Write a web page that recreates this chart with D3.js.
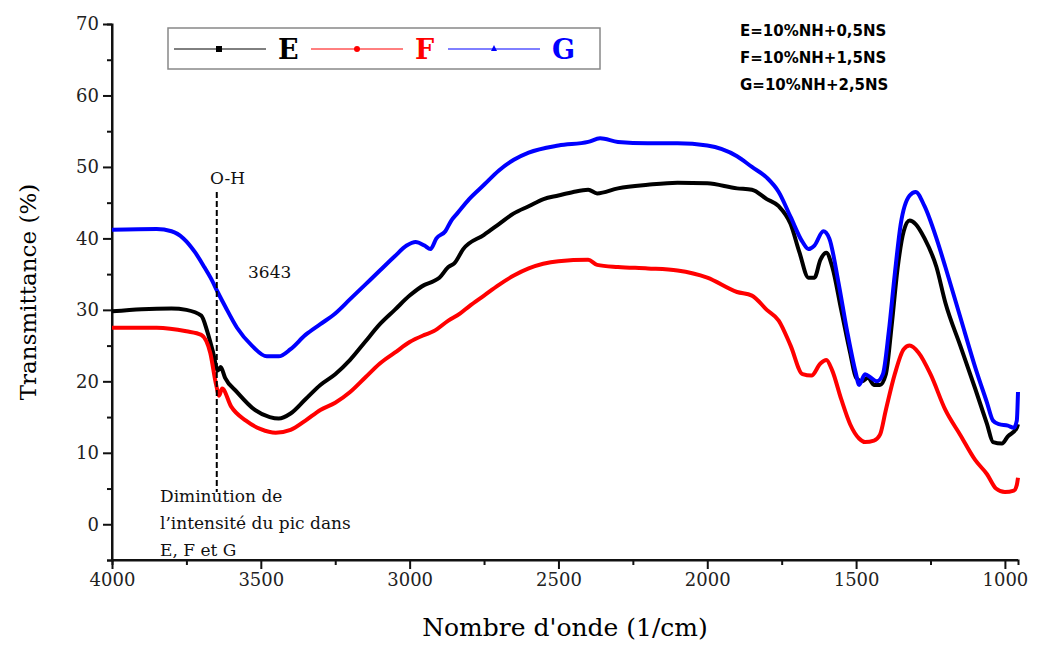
<!DOCTYPE html>
<meta charset="utf-8">
<style>
body{margin:0;background:#fff;}
.tick text{font-family:"DejaVu Serif",serif;font-size:18px;fill:#222;}
.axis path,.axis line{stroke:#111;stroke-width:2;}
.lg{font-family:"DejaVu Sans",sans-serif;font-weight:bold;font-size:15px;}
.ann{font-family:"DejaVu Serif",serif;font-size:17px;fill:#111;}
</style>
<body>
<svg width="1038" height="646"></svg>
<script src="https://cdn.jsdelivr.net/npm/d3@7"></script>
<script>
var seriesNames=["E","F","G"];
var seriesColors=["#000","#ff0000","#0000ff"];
var E=[[4000,29.8],[3900,30.1],[3800,30.2],[3750,30],[3700,29.2],[3680,27],[3660,24],[3645,21.5],[3635,22],[3620,20.5],[3580,18.5],[3520,16],[3470,15],[3440,14.8],[3400,15.5],[3350,17.5],[3300,19.5],[3250,21],[3200,23],[3150,25.5],[3100,28],[3050,30],[3000,32],[2950,33.5],[2920,34],[2900,34.5],[2870,36],[2850,36.5],[2820,38.5],[2750,40.5],[2700,42],[2650,43.5],[2600,44.5],[2550,45.5],[2500,46],[2450,46.5],[2400,46.8],[2370,46.3],[2300,47],[2200,47.5],[2100,47.8],[2000,47.7],[1900,47],[1850,46.8],[1800,45.5],[1760,44.5],[1720,42],[1690,38],[1660,34.5],[1640,34.5],[1620,37],[1600,38],[1580,36],[1550,30],[1520,24],[1500,20.5],[1480,20],[1460,20.5],[1440,19.5],[1420,19.5],[1400,21],[1380,28],[1360,36],[1340,41],[1320,42.5],[1300,42],[1270,40],[1230,36],[1200,31],[1150,25],[1100,19],[1060,14],[1040,11.5],[1010,11.3],[990,12.3],[960,13.5],[956,14]];
var F=[[4000,27.5],[3850,27.5],[3750,27],[3700,26.5],[3670,24],[3650,19.5],[3640,18],[3630,19],[3600,16.5],[3550,14.5],[3500,13.3],[3450,12.8],[3400,13.2],[3350,14.5],[3300,16],[3250,17],[3200,18.5],[3150,20.5],[3100,22.5],[3050,24],[3000,25.5],[2950,26.5],[2920,27],[2870,28.5],[2830,29.5],[2800,30.5],[2750,32],[2700,33.5],[2650,34.8],[2600,35.8],[2500,36.8],[2400,37],[2370,36.3],[2300,36],[2200,35.8],[2100,35.5],[2000,34.5],[1900,32.5],[1850,32],[1800,30],[1760,28.5],[1720,25],[1680,21],[1650,20.8],[1620,22.5],[1600,23],[1580,21.5],[1550,17.5],[1520,14],[1490,12],[1470,11.5],[1440,11.7],[1420,12.5],[1400,16],[1370,21],[1340,24.5],[1320,25],[1290,24],[1250,21],[1200,16],[1150,12.5],[1100,9],[1060,7],[1030,5],[1000,4.5],[970,4.7],[960,5.5],[956,6.5]];
var G=[[4000,41.2],[3850,41.3],[3800,41],[3760,40],[3720,38],[3690,36],[3665,34.2],[3645,32.5],[3620,30.5],[3580,27.5],[3530,25],[3480,23.5],[3440,23.5],[3400,24.5],[3350,26.5],[3300,28],[3250,29.5],[3200,31.5],[3150,33.5],[3100,35.5],[3050,37.5],[3010,39],[2980,39.5],[2950,39],[2930,38.5],[2910,40],[2880,41],[2860,42.5],[2840,43.5],[2800,45.5],[2750,47.5],[2700,49.5],[2650,51],[2600,52],[2500,53],[2400,53.5],[2360,54],[2300,53.5],[2200,53.3],[2100,53.3],[2000,53],[1900,51.5],[1850,50],[1800,48.5],[1760,46.5],[1720,43],[1680,39.5],[1660,38.5],[1640,39],[1610,41],[1590,40],[1560,34],[1530,27],[1500,21],[1490,19.5],[1470,21],[1450,20.5],[1430,20],[1410,21],[1390,27],[1370,35],[1350,42],[1320,46],[1300,46.5],[1270,44.5],[1230,40],[1200,36],[1150,29],[1100,22],[1060,17],[1040,14.5],[1020,14],[990,13.8],[970,13.5],[960,14.5],[956,18.5]];
var xTicks=[4000,3500,3000,2500,2000,1500,1000];
var yTicks=[0,10,20,30,40,50,60,70];
var formulas=["E=10%NH+0,5NS","F=10%NH+1,5NS","G=10%NH+2,5NS"];

var svg=d3.select("svg");
var x=d3.scaleLinear().domain([4000,956]).range([112,1018]);
var y=d3.scaleLinear().domain([-5,70]).range([560,24]);

// minor ticks
svg.append("g").attr("class","axis").attr("transform","translate(0,560)")
  .call(d3.axisBottom(x).tickValues(d3.range(3750,955,-500)).tickSize(5).tickFormat(""));
svg.append("g").attr("class","axis").attr("transform","translate(112,0)")
  .call(d3.axisLeft(y).tickValues(d3.range(-5,70,10)).tickSize(5).tickFormat(""));
var xa=svg.append("g").attr("class","axis").attr("transform","translate(0,560)")
  .call(d3.axisBottom(x).tickValues(xTicks).tickSize(9).tickPadding(4).tickFormat(d3.format("d")));
var ya=svg.append("g").attr("class","axis").attr("transform","translate(112,0)")
  .call(d3.axisLeft(y).tickValues(yTicks).tickSize(9).tickPadding(4));
xa.select(".domain").attr("d","M112,0H1018");
ya.select(".domain").attr("d","M0,24V560");

var line=d3.line().x(function(d){return x(d[0]);}).y(function(d){return y(d[1]);}).curve(d3.curveMonotoneX);
[E,F,G].forEach(function(s,i){
  svg.append("path").attr("d",line(s)).attr("fill","none").attr("stroke",seriesColors[i])
    .attr("stroke-width",4).attr("stroke-linejoin","round");
});

// axis titles
svg.append("text").attr("x",565).attr("y",636).attr("text-anchor","middle")
  .style("font-family","DejaVu Serif,serif").style("font-size","25px").text("Nombre d'onde (1/cm)");
svg.append("text").attr("transform","translate(36,292) rotate(-90)").attr("text-anchor","middle")
  .style("font-family","DejaVu Serif,serif").style("font-size","23px").text("Transmittance (%)");

// legend
svg.append("rect").attr("x",168).attr("y",28).attr("width",432).attr("height",41)
  .attr("fill","#fff").attr("stroke","#888").attr("stroke-width",1.5);
seriesNames.forEach(function(n,i){
  var lx=174+i*137;
  svg.append("line").attr("x1",lx).attr("x2",lx+92).attr("y1",49).attr("y2",49).attr("stroke",seriesColors[i]).attr("stroke-width",1);
  if(i==0) svg.append("rect").attr("x",lx+42).attr("y",46).attr("width",6).attr("height",6).attr("fill","#000");
  if(i==1) svg.append("circle").attr("cx",lx+46).attr("cy",49).attr("r",3).attr("fill",seriesColors[1]);
  if(i==2) svg.append("path").attr("d","M"+(lx+43)+",51L"+(lx+46)+",45L"+(lx+49)+",51Z").attr("fill",seriesColors[2]);
  svg.append("text").attr("x",lx+104).attr("y",59).attr("fill",seriesColors[i])
    .style("font-family","DejaVu Serif,serif").style("font-weight","bold").style("font-size","27px").text(n);
});
formulas.forEach(function(t,i){
  svg.append("text").attr("class","lg").attr("x",740).attr("y",36+i*27).text(t);
});

// annotations
svg.append("line").attr("x1",x(3648)).attr("x2",x(3648)).attr("y1",192).attr("y2",492)
  .attr("stroke","#000").attr("stroke-width",2).attr("stroke-dasharray","6,3");
svg.append("text").attr("class","ann").attr("x",210).attr("y",184).text("O-H");
svg.append("text").attr("class","ann").attr("x",248).attr("y",278).text("3643");
["Diminution de","l\u2019intensité du pic dans","E, F et G"].forEach(function(t,i){
  svg.append("text").attr("class","ann").attr("x",160).attr("y",502+i*27).text(t);
});
</script>
</body>
